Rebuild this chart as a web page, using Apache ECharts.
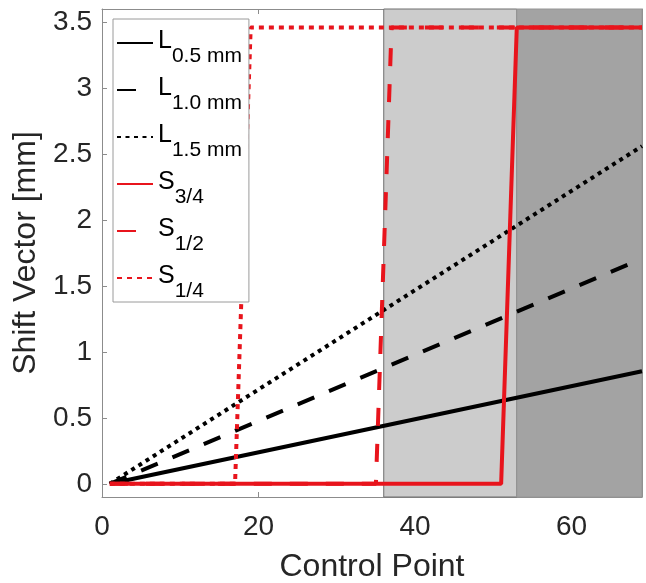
<!DOCTYPE html>
<html lang="en" style="height: 100%">
  <head>
    <meta charset="utf-8" />
    <style>
      html, body { margin: 0; padding: 0; background: #fff; }
      #container { width: 646px; height: 583px; }
    </style>
  </head>
  <body>
    <div id="container"></div>
    <script type="text/javascript" src="https://cdn.jsdelivr.net/npm/echarts@6/dist/echarts.min.js"></script>
    <script type="text/javascript">
      // series values: [control point, shift vector mm]
      var L05 = [[1, 0], [69, 0.853]];
      var L10 = [[1, 0], [69, 1.707]];
      var L15 = [[1, 0], [69, 2.56]];
      var S34 = [[1, 0], [51, 0], [53, 3.46], [69, 3.46]];
      var S12 = [[1, 0], [35, 0], [37, 3.46], [69, 3.46]];
      var S14 = [[1, 0], [17, 0], [19, 3.46], [69, 3.46]];

      // shaded control point ranges
      var lightBand = [36, 53];
      var darkBand = [53, 69];

      var xTicks = [0, 20, 40, 60];
      var yTicks = [0, 0.5, 1, 1.5, 2, 2.5, 3, 3.5];

      // legend names: [main letter, subscript]
      var names = {
        L05: ["L", "0.5 mm"],
        L10: ["L", "1.0 mm"],
        L15: ["L", "1.5 mm"],
        S34: ["S", "3/4"],
        S12: ["S", "1/2"],
        S14: ["S", "1/4"],
      };

      var dom = document.getElementById("container");
      var myChart = echarts.init(dom, null, { renderer: "canvas" });

      var font = "Liberation Sans";
      var red = "#e8141c";
      var axisGray = "#8c8c8c";
      var textCol = "#262626";

      function key(k) {
        return names[k][0] + "_" + names[k][1];
      }

      function lineSeries(k, data, color, type, dash) {
        return {
          name: key(k),
          type: "line",
          data: data,
          symbol: "none",
          showSymbol: false,
          z: 3,
          lineStyle: {
            color: color,
            width: 4,
            type: dash ? dash : type,
            cap: "butt",
          },
          itemStyle: { color: color },
        };
      }

      function xAxisOf(pos, showLabel) {
        return {
          type: "value",
          position: pos,
          min: 0,
          max: 69,
          splitLine: { show: false },
          axisLine: { onZero: false, lineStyle: { color: axisGray, width: 1 } },
          axisTick: {
            inside: true,
            length: 5,
            customValues: xTicks,
            lineStyle: { color: axisGray },
          },
          axisLabel: {
            show: showLabel,
            customValues: xTicks,
            fontSize: 28,
            fontFamily: font,
            color: textCol,
            margin: 16,
          },
          name: showLabel ? "Control Point" : "",
          nameLocation: "middle",
          nameGap: 54,
          nameTextStyle: { fontSize: 32, fontFamily: font, color: textCol },
        };
      }

      function yAxisOf(pos, showLabel) {
        return {
          type: "value",
          position: pos,
          min: -0.1,
          max: 3.6,
          splitLine: { show: false },
          axisLine: { show: true, onZero: false, lineStyle: { color: axisGray, width: 1 } },
          axisTick: {
            show: true,
            inside: true,
            length: 5,
            customValues: yTicks,
            lineStyle: { color: axisGray },
          },
          axisLabel: {
            show: showLabel,
            customValues: yTicks,
            fontSize: 28,
            fontFamily: font,
            color: textCol,
            margin: 10,
          },
          name: showLabel ? "Shift Vector [mm]" : "",
          nameLocation: "middle",
          nameGap: 57,
          nameTextStyle: { fontSize: 32, fontFamily: font, color: textCol },
        };
      }

      var legendKeys = ["L05", "L10", "L15", "S34", "S12", "S14"];
      var legendData = legendKeys.map(function (k) {
        var item = { name: key(k) };
        if (k === "L10" || k === "S12") {
          item.lineStyle = { type: [19, 30] };
        }
        return item;
      });

      var option = {
        animation: false,
        grid: { left: 102, right: 4, top: 9, bottom: 86, outerBoundsMode: "none" },
        xAxis: [xAxisOf("bottom", true), xAxisOf("top", false)],
        yAxis: [yAxisOf("left", true), yAxisOf("right", false)],
        legend: {
          orient: "vertical",
          left: 113,
          top: 19,
          data: legendData,
          itemWidth: 36,
          itemHeight: 14,
          itemGap: 9,
          padding: [10, 7, 0, 3],
          backgroundColor: "#ffffff",
          borderColor: "#9a9a9a",
          borderWidth: 1,
          borderRadius: 0,
          selectedMode: false,
          itemStyle: { opacity: 0 },
          formatter: function (n) {
            var parts = n.split("_");
            return "{m|" + parts[0] + "}{s|" + parts[1] + "}";
          },
          textStyle: {
            color: "#000",
            rich: {
              m: { fontSize: 25, fontFamily: font, color: "#000", padding: [0, 0, 3, 0] },
              s: { fontSize: 21, fontFamily: font, color: "#000", padding: [27, 0, 0, 0] },
            },
          },
        },
        series: [
          {
            name: "bands",
            type: "line",
            data: [],
            z: 1,
            silent: true,
            markArea: {
              silent: true,
              data: [
                [
                  { xAxis: lightBand[0], itemStyle: { color: "#cccccc", borderColor: "#6e6e6e", borderWidth: 1 } },
                  { xAxis: lightBand[1] },
                ],
                [
                  { xAxis: darkBand[0], itemStyle: { color: "#a3a3a3", borderColor: "#959595", borderWidth: 1 } },
                  { xAxis: darkBand[1] },
                ],
              ],
            },
          },
          lineSeries("L05", L05, "#000000", "solid"),
          lineSeries("L10", L10, "#000000", "dashed", [18, 16]),
          lineSeries("L15", L15, "#000000", "dotted", [4, 4.5]),
          lineSeries("S34", S34, red, "solid"),
          lineSeries("S12", S12, red, "dashed", [18, 18]),
          lineSeries("S14", S14, red, "dotted", [5, 5]),
        ],
      };

      myChart.setOption(option);
      window.addEventListener("resize", myChart.resize);
    </script>
  </body>
</html>
